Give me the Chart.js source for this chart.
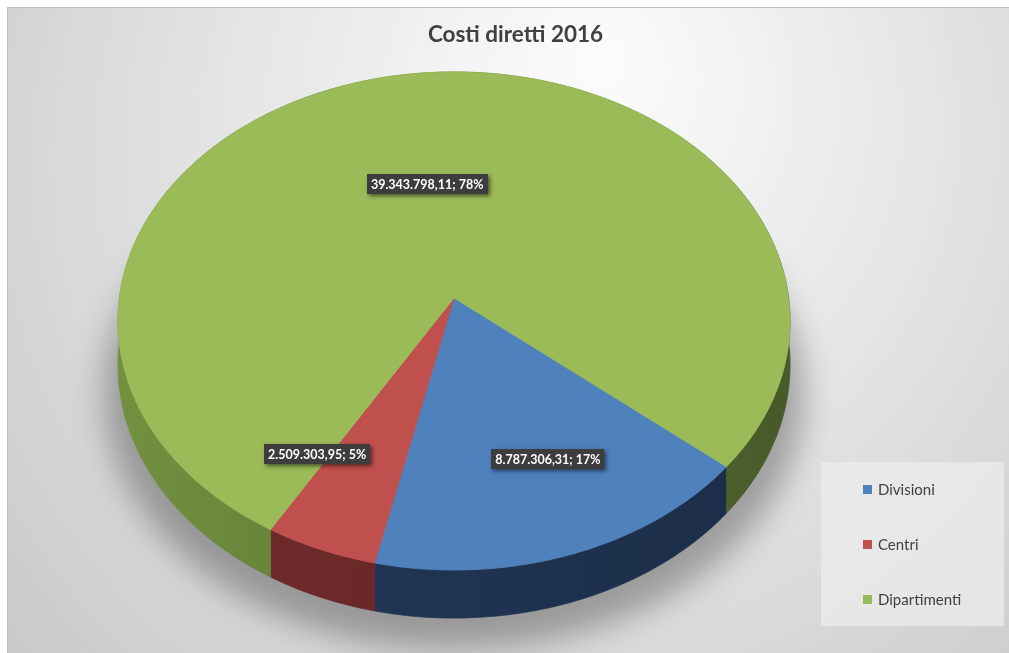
<!DOCTYPE html>
<html>
<head>
<meta charset="utf-8">
<script src="https://cdn.jsdelivr.net/npm/chart.js@4.4.1/dist/chart.umd.min.js"></script>
<style>
  html, body { margin: 0; padding: 0; background: #fff; }
  canvas { display: block; }
</style>
</head>
<body>
<canvas id="costChart" width="1009" height="653"></canvas>
<script>
// Costi diretti 2016, per struttura
const categories = ["Divisioni", "Centri", "Dipartimenti"];
const costs = [8787306.31, 2509303.95, 39343798.11];

const sliceColors = ["#4f81bd", "#c0504d", "#9bbb59"];
const wallColors = [["#24395a", "#1b2d48"], ["#742c2c", "#5a2121"], ["#72913f", "#48592a"]];

// 3D view: centre of the top face, half axes, perspective and thickness
const view = { x: 454, y: 298, a: 334.6, b: 246.9, k: 0.0924, depth: 43.6 };

// label placement inside each slice (fraction of radius, turn in degrees)
const labelRadius = [0.67, 0.71, 0.49];
const labelTurn = [-4.5, 11.6, 0];

function fmtIt(n) {
  const [i, d] = n.toFixed(2).split(".");
  return i.replace(/\B(?=(\d{3})+(?!\d))/g, ".") + "," + d;
}

// point on the tilted disc, angle in radians (0 = right, clockwise)
function proj(theta, r = 1, down = 0) {
  const u = r * Math.cos(theta);
  const v = r * Math.sin(theta);
  const w = 1 - view.k * v;
  return {
    x: view.x + view.a * u / w,
    y: view.y + view.b * v / w + down / w
  };
}

function arcPoints(start, end, down = 0) {
  const steps = Math.max(8, Math.ceil((end - start) / 0.01));
  const pts = [];
  for (let i = 0; i <= steps; i++) {
    pts.push(proj(start + (end - start) * i / steps, 1, down));
  }
  return pts;
}

const backgroundPlugin = {
  id: "frameBackground",
  beforeDraw(chart) {
    const { ctx, width, height } = chart;
    ctx.save();
    ctx.fillStyle = "#ffffff";
    ctx.fillRect(0, 0, width, height);
    const g = ctx.createRadialGradient(600, 60, 20, 560, 200, 720);
    g.addColorStop(0, "#fbfbfb");
    g.addColorStop(0.45, "#e6e6e6");
    g.addColorStop(1, "#c9c9c9");
    ctx.fillStyle = g;
    ctx.fillRect(7, 7, width - 7, height - 7);
    ctx.strokeStyle = "#bdbdbd";
    ctx.lineWidth = 1;
    ctx.beginPath();
    ctx.moveTo(7.5, height);
    ctx.lineTo(7.5, 7.5);
    ctx.lineTo(width, 7.5);
    ctx.stroke();
    ctx.restore();
  }
};

const pie3dPlugin = {
  id: "pie3d",
  beforeDatasetsDraw(chart) {
    const { ctx } = chart;
    const arcs = chart.getDatasetMeta(0).data;

    // soft shadow under the disc
    ctx.save();
    ctx.filter = "blur(16px)";
    ctx.fillStyle = "rgba(0,0,0,0.30)";
    ctx.beginPath();
    arcPoints(0, Math.PI * 2, 72).forEach((p, i) => {
      const x = view.x + (p.x - view.x) * 1.04;
      i ? ctx.lineTo(x, p.y) : ctx.moveTo(x, p.y);
    });
    ctx.closePath();
    ctx.fill();
    ctx.restore();

    // side walls
    arcs.forEach((arc, i) => {
      const top = arcPoints(arc.startAngle, arc.endAngle);
      const bottom = arcPoints(arc.startAngle, arc.endAngle, view.depth).reverse();
      const g = ctx.createLinearGradient(view.x - view.a, 0, view.x + view.a, 0);
      g.addColorStop(0, wallColors[i][0]);
      g.addColorStop(1, wallColors[i][1]);
      ctx.save();
      ctx.fillStyle = g;
      ctx.strokeStyle = g;
      ctx.lineWidth = 0.8;
      ctx.beginPath();
      top.concat(bottom).forEach((p, j) => (j ? ctx.lineTo(p.x, p.y) : ctx.moveTo(p.x, p.y)));
      ctx.closePath();
      ctx.fill();
      ctx.stroke();
      ctx.restore();
    });

    // top faces
    arcs.forEach((arc, i) => {
      ctx.save();
      ctx.fillStyle = sliceColors[i];
      ctx.strokeStyle = sliceColors[i];
      ctx.lineWidth = 0.8;
      ctx.beginPath();
      ctx.moveTo(view.x, view.y);
      arcPoints(arc.startAngle, arc.endAngle).forEach(p => ctx.lineTo(p.x, p.y));
      ctx.closePath();
      ctx.fill();
      ctx.stroke();
      ctx.restore();
    });

    // data labels: value; percent
    const total = costs.reduce((s, v) => s + v, 0);
    ctx.save();
    ctx.font = "bold 12.5px Lato";
    ctx.textAlign = "center";
    ctx.textBaseline = "middle";
    arcs.forEach((arc, i) => {
      const mid = (arc.startAngle + arc.endAngle) / 2 + labelTurn[i] * Math.PI / 180;
      const p = proj(mid, labelRadius[i]);
      const text = fmtIt(costs[i]) + "; " + Math.round(costs[i] / total * 100) + "%";
      const w = ctx.measureText(text).width + 8;
      const h = 20;
      ctx.save();
      ctx.shadowColor = "rgba(0,0,0,0.55)";
      ctx.shadowBlur = 4;
      ctx.shadowOffsetX = 2;
      ctx.shadowOffsetY = 2;
      ctx.fillStyle = "#3d3d3d";
      ctx.fillRect(Math.round(p.x - w / 2), Math.round(p.y - h / 2), Math.round(w), h);
      ctx.restore();
      ctx.fillStyle = "#ffffff";
      ctx.fillText(text, p.x, p.y + 1);
    });
    ctx.restore();
    return false;
  },
  afterDraw(chart) {
    // legend panel at the bottom right
    const { ctx } = chart;
    ctx.save();
    ctx.fillStyle = "rgba(236,236,236,0.75)";
    ctx.fillRect(821, 462, 183, 164);
    ctx.font = "15px Lato";
    ctx.textBaseline = "middle";
    chart.data.labels.forEach((label, i) => {
      const y = 489 + i * 55;
      ctx.fillStyle = sliceColors[i];
      ctx.fillRect(863, y - 4, 9, 9);
      ctx.fillStyle = "#404040";
      ctx.fillText(label, 878, y + 1);
    });
    ctx.restore();
  }
};

new Chart(document.getElementById("costChart"), {
  type: "pie",
  data: {
    labels: categories,
    datasets: [{
      data: costs,
      backgroundColor: sliceColors,
      borderWidth: 0
    }]
  },
  options: {
    responsive: false,
    animation: false,
    rotation: 130,
    events: [],
    layout: { padding: { left: 22 } },
    plugins: {
      legend: { display: false },
      tooltip: { enabled: false },
      title: {
        display: true,
        text: "Costi diretti 2016",
        color: "#404040",
        font: { family: "Lato", size: 22.5, weight: "bold" },
        padding: { top: 21, bottom: 10 }
      }
    }
  },
  plugins: [backgroundPlugin, pie3dPlugin]
});
</script>
</body>
</html>
